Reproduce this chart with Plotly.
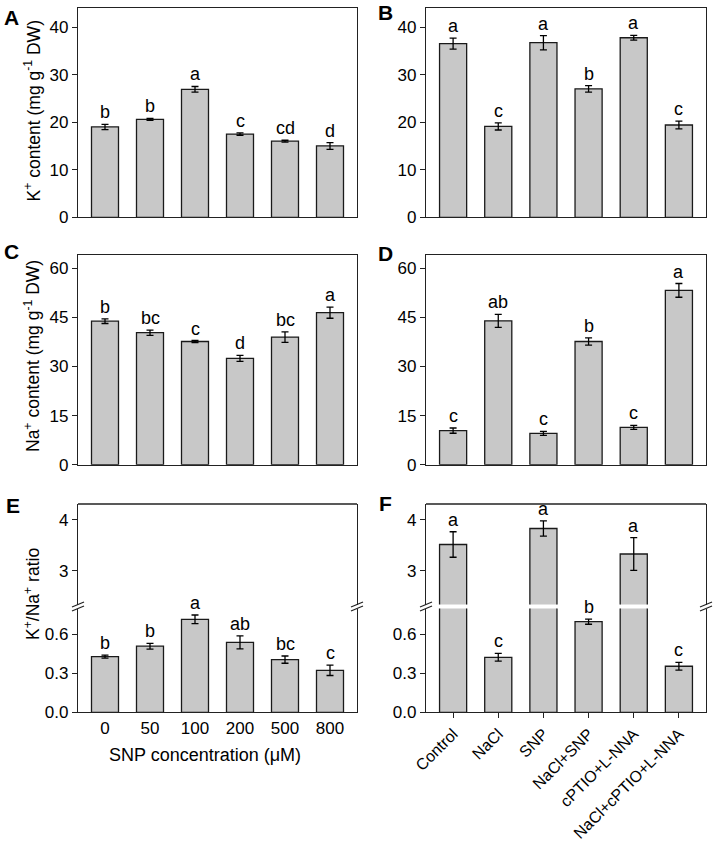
import plotly.graph_objects as go

W, H = 715, 844


def px(x):
    return x / W


def py(y):
    return 1 - y / H


# ---------------- data ----------------
snp_conc = ["0", "50", "100", "200", "500", "800"]
treatments = ["Control", "NaCl", "SNP", "NaCl+SNP", "cPTIO+L-NNA", "NaCl+cPTIO+L-NNA"]

k_snp = [19.0, 20.6, 26.9, 17.5, 16.0, 15.0]
k_snp_err = [0.55, 0.2, 0.6, 0.25, 0.2, 0.7]
k_snp_letters = ["b", "b", "a", "c", "cd", "d"]

k_trt = [36.5, 19.1, 36.7, 27.0, 37.75, 19.4]
k_trt_err = [1.15, 0.75, 1.5, 0.7, 0.5, 0.8]
k_trt_letters = ["a", "c", "a", "b", "a", "c"]

na_snp = [43.8, 40.3, 37.6, 32.45, 38.96, 46.4]
na_snp_err = [0.7, 0.8, 0.3, 0.9, 1.6, 1.7]
na_snp_letters = ["b", "bc", "c", "d", "bc", "a"]

na_trt = [10.4, 43.9, 9.56, 37.6, 11.4, 53.2]
na_trt_err = [0.8, 2.0, 0.6, 1.1, 0.6, 2.1]
na_trt_letters = ["c", "ab", "c", "b", "c", "a"]

ratio_snp = [0.428, 0.508, 0.715, 0.538, 0.405, 0.323]
ratio_snp_err = [0.012, 0.022, 0.033, 0.05, 0.028, 0.04]
ratio_snp_letters = ["b", "b", "a", "ab", "bc", "c"]

ratio_trt = [3.516, 0.423, 3.83, 0.697, 3.33, 0.354]
ratio_trt_err = [0.25, 0.03, 0.15, 0.02, 0.32, 0.03]
ratio_trt_letters = ["a", "c", "a", "b", "a", "c"]

# ---------------- style ----------------
FONT = "Arial, 'Liberation Sans', sans-serif"
BAR_COLOR = "#c8c8c8"
EDGE = "#1a1a1a"
LINE = "#222222"
LW = 1.3
FS_TICK = 17
FS_LETTER = 18
FS_TITLE = 17.5
FS_ROT = 16

LEFT = (78, 357)
RIGHT = (426, 706)
ROW1 = (8, 217.3)
ROW2 = (255, 464.7)
ROW3_UP = (504, 604.5)
ROW3_LOW = (608.5, 712.3)
LOW_TOP = 0.798
UP_RANGE = [2.34, 4.31]


def xdom(c):
    return [px(c[0]), px(c[1])]


def ydom(r):
    return [py(r[1]), py(r[0])]


fig = go.Figure()


def add_bars(cats, vals, errs, xa, ya):
    fig.add_trace(go.Bar(
        x=cats, y=vals, width=0.6,
        marker=dict(color=BAR_COLOR, line=dict(color=EDGE, width=LW)),
        error_y=dict(type="data", array=errs, color="black", thickness=1.3, width=3.5),
        xaxis=xa, yaxis=ya, showlegend=False, hoverinfo="x+y",
    ))


annotations = []


def add_letters(vals, errs, letters, xref, yref, yref_up=None, low_top=None):
    for i, (v, e, t) in enumerate(zip(vals, errs, letters)):
        yr = yref
        if yref_up is not None and v + e > low_top:
            yr = yref_up
        annotations.append(dict(
            x=i, y=v + e, xref=xref, yref=yr, text=t, showarrow=False,
            yanchor="bottom", xanchor="center", yshift=0,
            font=dict(size=FS_LETTER, color="black", family=FONT),
        ))


# A
add_bars(snp_conc, k_snp, k_snp_err, "x", "y")
add_letters(k_snp, k_snp_err, k_snp_letters, "x", "y")
# B
add_bars(treatments, k_trt, k_trt_err, "x2", "y2")
add_letters(k_trt, k_trt_err, k_trt_letters, "x2", "y2")
# C
add_bars(snp_conc, na_snp, na_snp_err, "x3", "y3")
add_letters(na_snp, na_snp_err, na_snp_letters, "x3", "y3")
# D
add_bars(treatments, na_trt, na_trt_err, "x4", "y4")
add_letters(na_trt, na_trt_err, na_trt_letters, "x4", "y4")
# E (broken axis: y5 low, y7 up)
add_bars(snp_conc, ratio_snp, ratio_snp_err, "x5", "y5")
add_bars(snp_conc, ratio_snp, ratio_snp_err, "x5", "y7")
add_letters(ratio_snp, ratio_snp_err, ratio_snp_letters, "x5", "y5", "y7", LOW_TOP)
# F (broken axis: y6 low, y8 up)
add_bars(treatments, ratio_trt, ratio_trt_err, "x6", "y6")
add_bars(treatments, ratio_trt, ratio_trt_err, "x6", "y8")
add_letters(ratio_trt, ratio_trt_err, ratio_trt_letters, "x6", "y6", "y8", LOW_TOP)

tickfont = dict(size=FS_TICK, color="black", family=FONT)


def xaxis(col, anchor, mirror=True, labels=False, ticks="", angle=None, font=tickfont):
    d = dict(domain=xdom(col), anchor=anchor, type="category", range=[-0.6, 5.6],
             showline=True, linecolor=LINE, linewidth=LW, mirror=mirror,
             showgrid=False, zeroline=False, ticks=ticks, ticklen=5, tickwidth=LW,
             tickcolor=LINE, showticklabels=labels, tickfont=font,
             automargin=False, fixedrange=True)
    if angle is not None:
        d["tickangle"] = angle
    return d


def yaxis(row, anchor, rng, tickvals, ticktext=None):
    d = dict(domain=ydom(row), anchor=anchor, range=rng, tickvals=tickvals,
             showline=True, linecolor=LINE, linewidth=LW, mirror=True,
             showgrid=False, zeroline=False, ticks="outside", ticklen=5, tickwidth=LW,
             tickcolor=LINE, tickfont=tickfont, automargin=False, fixedrange=True)
    if ticktext is not None:
        d["ticktext"] = ticktext
    return d


layout = dict(
    width=W, height=H, margin=dict(l=0, r=0, t=0, b=0),
    paper_bgcolor="white", plot_bgcolor="white", template="none",
    font=dict(family=FONT, size=FS_TICK, color="black"),
    showlegend=False,
    xaxis=xaxis(LEFT, "y"),
    yaxis=yaxis(ROW1, "x", [0, 44], [0, 10, 20, 30, 40]),
    xaxis2=xaxis(RIGHT, "y2"),
    yaxis2=yaxis(ROW1, "x2", [0, 44], [0, 10, 20, 30, 40]),
    xaxis3=xaxis(LEFT, "y3"),
    yaxis3=yaxis(ROW2, "x3", [0, 64], [0, 15, 30, 45, 60]),
    xaxis4=xaxis(RIGHT, "y4"),
    yaxis4=yaxis(ROW2, "x4", [0, 64], [0, 15, 30, 45, 60]),
    xaxis5=xaxis(LEFT, "y5", mirror=False, labels=True, ticks=""),
    yaxis5=yaxis(ROW3_LOW, "x5", [0, LOW_TOP], [0, 0.3, 0.6], ["0.0", "0.3", "0.6"]),
    yaxis7=yaxis(ROW3_UP, "x5", UP_RANGE, [3, 4]),
    xaxis6=xaxis(RIGHT, "y6", mirror=False, labels=True, ticks="outside", angle=-45,
                 font=dict(size=FS_ROT, color="black", family=FONT)),
    yaxis6=yaxis(ROW3_LOW, "x6", [0, LOW_TOP], [0, 0.3, 0.6], ["0.0", "0.3", "0.6"]),
    yaxis8=yaxis(ROW3_UP, "x6", UP_RANGE, [3, 4]),
)

title_font = dict(size=FS_TITLE, family=FONT, color="black")
# axis titles
annotations.append(dict(x=px(32), y=py(111.5), xref="paper", yref="paper", showarrow=False,
                        xanchor="center", yanchor="middle",
                        text="K<sup>+</sup> content (mg g<sup>-1</sup> DW)", textangle=-90,
                        font=title_font))
annotations.append(dict(x=px(32), y=py(356), xref="paper", yref="paper", showarrow=False,
                        xanchor="center", yanchor="middle",
                        text="Na<sup>+</sup> content (mg g<sup>-1</sup> DW)", textangle=-90,
                        font=title_font))
annotations.append(dict(x=px(32), y=py(594), xref="paper", yref="paper", showarrow=False,
                        xanchor="center", yanchor="middle",
                        text="K<sup>+</sup>/Na<sup>+</sup> ratio", textangle=-90,
                        font=title_font))
annotations.append(dict(x=px(205), y=py(755), xref="paper", yref="paper", showarrow=False,
                        xanchor="center", yanchor="middle",
                        text="SNP concentration (\u03bcM)", font=dict(size=18, family=FONT, color="black")))

# panel letters
for lab, (cx, cy) in zip("ABCDEF", [(11, 17.5), (385, 12), (11, 252), (385, 253), (13, 505), (386, 504)]):
    annotations.append(dict(x=px(cx), y=py(cy), xref="paper", yref="paper", showarrow=False,
                            text="<b>%s</b>" % lab, xanchor="center", yanchor="middle",
                            font=dict(size=21, family=FONT, color="black")))

shapes = []
# top frame lines of broken panels
for col in (LEFT, RIGHT):
    shapes.append(dict(type="line", xref="paper", yref="paper",
                       x0=px(col[0]), x1=px(col[1]), y0=py(ROW3_UP[0]), y1=py(ROW3_UP[0]),
                       line=dict(color=LINE, width=LW)))
    # break marks
    for xs in col:
        for yc in (ROW3_UP[1], ROW3_LOW[0]):
            shapes.append(dict(type="line", xref="paper", yref="paper",
                               x0=px(xs - 6), x1=px(xs + 6), y0=py(yc + 2.5), y1=py(yc - 2.5),
                               line=dict(color=LINE, width=LW)))

layout["annotations"] = annotations
layout["shapes"] = shapes
fig.update_layout(**layout)
fig.write_html("out.html", config={"displayModeBar": False},
               post_script="document.body.style.margin='0px';document.body.style.overflow='hidden';")
